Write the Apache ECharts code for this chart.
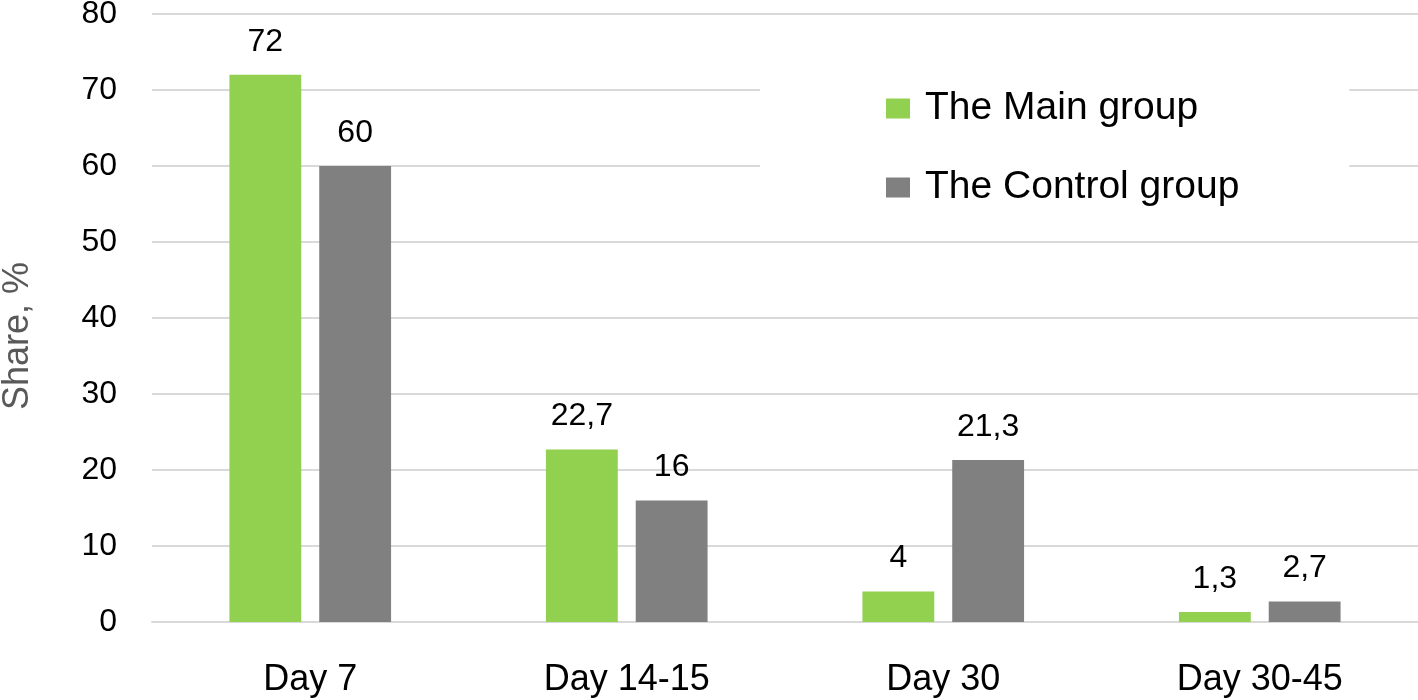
<!DOCTYPE html>
<html>
<head>
<meta charset="utf-8">
<script src="https://cdn.jsdelivr.net/npm/echarts@6/dist/echarts.min.js"></script>
<style>
  html, body { margin: 0; padding: 0; background: #fff; }
  #chart { width: 1418px; height: 700px; }
</style>
</head>
<body>
<div id="chart"></div>
<script>
// chart data
var categories = ['Day 7', 'Day 14-15', 'Day 30', 'Day 30-45'];
var mainGroup = [72, 22.7, 4, 1.3];
var controlGroup = [60, 16, 21.3, 2.7];
var seriesNames = ['The Main group', 'The Control group'];

var FONT = '"Liberation Sans", Arial, sans-serif';

function commaLabel(p) {
    return String(p.value).replace('.', ',');
}

var myChart = echarts.init(document.getElementById('chart'));
var option = {
    animation: false,
    backgroundColor: '#fff',
    textStyle: { fontFamily: FONT },
    grid: {
        left: 152,
        right: 0,
        top: 14,
        bottom: 78,
        outerBoundsMode: 'none'
    },
    legend: {
        orient: 'vertical',
        left: 760,
        top: 83,
        padding: [6, 110, 22, 126],
        backgroundColor: '#fff',
        itemWidth: 24,
        itemHeight: 20,
        itemGap: 40,
        icon: 'rect',
        data: seriesNames,
        textStyle: { fontSize: 39, color: '#000', fontFamily: FONT, padding: [0, 0, 0, 10] }
    },
    xAxis: {
        type: 'category',
        data: categories,
        axisTick: { show: false },
        axisLine: { lineStyle: { color: '#d9d9d9', width: 2 } },
        axisLabel: { fontSize: 36, color: '#000', margin: 40, fontFamily: FONT }
    },
    yAxis: {
        type: 'value',
        min: 0,
        max: 80,
        interval: 10,
        name: 'Share, %',
        nameLocation: 'middle',
        nameGap: 116,
        nameRotate: 90,
        nameTextStyle: { fontSize: 36, color: '#595959', fontFamily: FONT, padding: [0, 36, 0, 0] },
        axisLine: { show: false },
        axisTick: { show: false },
        splitLine: { lineStyle: { color: '#d9d9d9', width: 2 } },
        axisLabel: { fontSize: 32, color: '#000', margin: 35, fontFamily: FONT }
    },
    series: [
        {
            name: seriesNames[0],
            type: 'bar',
            data: mainGroup,
            barWidth: '22.7%',
            barGap: '25%',
            itemStyle: { color: '#92d050' },
            label: {
                show: true, position: 'top', distance: 17,
                fontSize: 32, color: '#000', formatter: commaLabel
            }
        },
        {
            name: seriesNames[1],
            type: 'bar',
            data: controlGroup,
            barWidth: '22.7%',
            itemStyle: { color: '#808080' },
            label: {
                show: true, position: 'top', distance: 17,
                fontSize: 32, color: '#000', formatter: commaLabel
            }
        }
    ]
};
myChart.setOption(option);
</script>
</body>
</html>
